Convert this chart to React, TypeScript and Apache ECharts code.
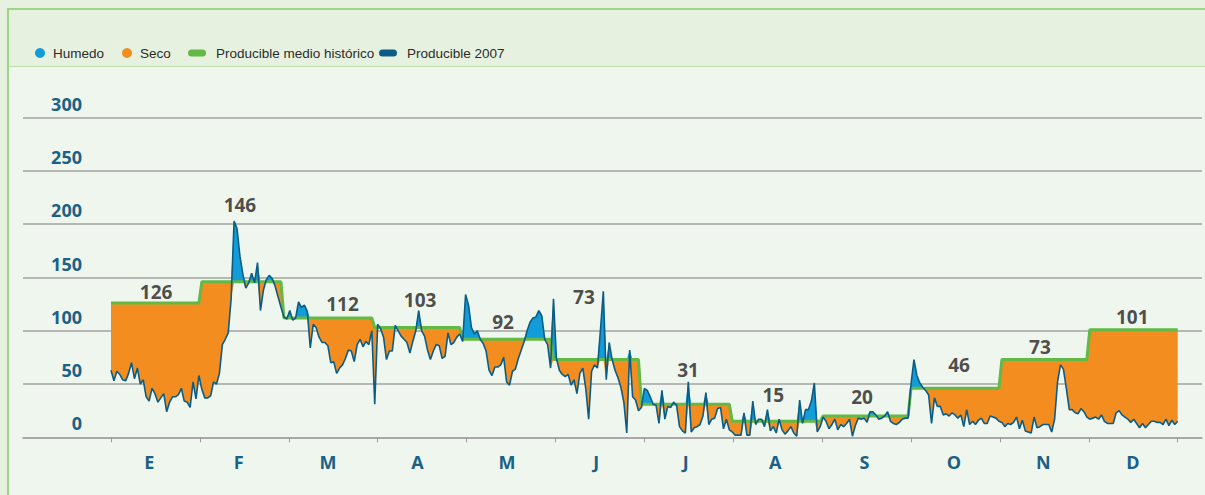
import React, { useEffect, useRef } from 'react';
import * as echarts from 'echarts';

const MONTHS = ['E', 'F', 'M', 'A', 'M', 'J', 'J', 'A', 'S', 'O', 'N', 'D'];
const MEDIO = [126, 146, 112, 103, 92, 73, 31, 15, 20, 46, 73, 101];

const JAN = [63, 53, 62, 59, 54, 53, 60, 70, 55, 65, 50, 54, 38, 34, 46, 41, 33, 37, 41, 24, 33, 38, 38, 40, 46, 34, 33, 28, 52, 36, 58];
const FEB = [45, 37, 37, 39, 52, 50, 60, 87, 92, 98, 130, 203, 196, 170, 153, 140, 145, 154, 145, 164, 119, 138, 148, 152, 149, 142, 132, 122];
const MAR = [113, 111, 119, 110, 112, 127, 122, 124, 118, 84, 106, 103, 94, 89, 89, 86, 70, 71, 60, 65, 68, 74, 82, 81, 71, 87, 92, 85, 90, 87, 100];
const APR = [31, 106, 102, 94, 73, 81, 81, 105, 100, 95, 92, 89, 79, 90, 100, 119, 100, 95, 82, 73, 81, 87, 86, 74, 76, 98, 87, 89, 94, 97];
const MAY = [90, 134, 124, 103, 97, 100, 92, 88, 81, 63, 58, 66, 66, 68, 75, 52, 49, 62, 64, 74, 82, 90, 100, 108, 112, 113, 119, 114, 92, 87, 65];
const JUN = [130, 74, 63, 59, 57, 59, 49, 54, 41, 60, 65, 46, 17, 62, 68, 65, 100, 137, 54, 89, 73, 63, 56, 47, 33, 4, 82, 38, 35, 25];
const JUL = [28, 46, 44, 38, 31, 30, 13, 44, 17, 29, 28, 33, 30, 10, 6, 4, 52, 5, 9, 10, 12, 20, 42, 12, 17, 18, 27, 28, 8, 17, 7];
const AUG = [5, 2, 2, 2, 23, 2, 2, 34, 12, 17, 17, 10, 26, 6, 10, 4, 17, 7, 3, 6, 10, 4, 1, 35, 13, 26, 26, 34, 51, 5, 10];
const SEP = [19, 15, 8, 12, 17, 7, 12, 10, 13, 17, 1, 11, 18, 17, 18, 14, 24, 24, 21, 17, 18, 20, 24, 15, 13, 12, 14, 17, 18, 18];
const OCT = [50, 73, 58, 51, 47, 44, 40, 13, 37, 29, 29, 21, 22, 20, 23, 21, 18, 21, 10, 26, 12, 15, 12, 16, 18, 13, 13, 20, 19, 18, 15];
const NOV = [14, 10, 13, 12, 14, 19, 8, 16, 6, 5, 4, 19, 9, 10, 12, 12, 12, 5, 17, 52, 68, 64, 46, 26, 26, 23, 22, 27, 24, 19];
const DEC = [17, 18, 19, 17, 21, 15, 13, 13, 13, 23, 25, 21, 19, 17, 14, 17, 13, 9, 13, 9, 12, 15, 15, 14, 14, 12, 17, 11, 16, 12, 15];

const DAILY_BY_MONTH = [JAN, FEB, MAR, APR, MAY, JUN, JUL, AUG, SEP, OCT, NOV, DEC];

// Anchor of each monthly value label, in chart coordinates [day, value]
const LABEL_ANCHORS = [
  [15.4, 136], [44, 218], [79, 125], [105.5, 128.6], [133.8, 108], [161.4, 131.7],
  [196.9, 63], [226, 40], [256.3, 38], [289.4, 68], [317, 85], [348.5, 113],
];

const LEGEND_ITEMS = [
  { name: 'Humedo', color: '#129dd9', icon: 'circle', left: 30 },
  { name: 'Seco', color: '#f48d1f', icon: 'circle', left: 117 },
  { name: 'Producible medio histórico', color: '#62b946', icon: 'pill', left: 183 },
  { name: 'Producible 2007', color: '#0b5d86', icon: 'pill', left: 374 },
];

const ORANGE = '#f48d1f';
const BLUE = '#129dd9';
const GREEN = '#62b946';
const DARK = '#0b5d86';
const TEAL = '#1b6185';
const FONT = "'Open Sans', 'DejaVu Sans', sans-serif";
const LEGEND_FONT = "'Liberation Sans', Arial, sans-serif";
const PILL = 'path://M3.5 0H14.5A3.5 3.5 0 0 1 14.5 7H3.5A3.5 3.5 0 0 1 3.5 0Z';

export default function App() {
  const ref = useRef<HTMLDivElement>(null);

  useEffect(() => {
    const chart = echarts.init(ref.current as HTMLDivElement, null, { renderer: 'svg' });

    const daily: number[] = [];
    const medio: number[] = [];
    DAILY_BY_MONTH.forEach((arr, m) => {
      arr.forEach((v) => {
        daily.push(v);
        medio.push(MEDIO[m]);
      });
    });
    const lastDay = daily.length - 1;
    const days = daily.map((_, i) => String(i));
    const base = daily.map((v, i) => Math.min(v, medio[i]));
    const seco = daily.map((v, i) => medio[i] - Math.min(v, medio[i]));
    const hum = daily.map((v, i) => Math.max(v, medio[i]) - medio[i]);

    const plotTop = 117.7;
    const plotBottom = 495 - 437.3;

    const legends = LEGEND_ITEMS.map((it) => {
      const isPill = it.icon === 'pill';
      return {
        left: it.left,
        top: 41,
        itemWidth: isPill ? 18 : 10,
        itemHeight: isPill ? 7 : 10,
        selectedMode: false,
        icon: isPill ? PILL : 'circle',
        textStyle: {
          fontFamily: LEGEND_FONT, fontSize: 13.5, color: '#2b2b2b',
          padding: [0, 0, 0, isPill ? 5 : 3],
        },
        data: [{ name: it.name, itemStyle: { color: it.color } }],
      };
    });

    chart.setOption({
      animation: false,
      backgroundColor: 'transparent',
      grid: [
        { left: 23, right: 3, top: plotTop, bottom: plotBottom },
        { left: 111, right: 27.3, top: plotTop, bottom: plotBottom },
        { left: 104.5, right: 27.5, top: plotTop, bottom: plotBottom },
      ],
      legend: legends,
      xAxis: [
        {
          gridIndex: 0, type: 'value', min: 0, max: 1,
          axisLine: { show: true, lineStyle: { color: '#a3a3a3', width: 1.5 } },
          axisTick: { show: false }, axisLabel: { show: false }, splitLine: { show: false },
        },
        {
          gridIndex: 1, type: 'value', min: 0, max: lastDay, show: false,
        },
        {
          gridIndex: 1, type: 'category', data: MONTHS, position: 'bottom', boundaryGap: true,
          axisLine: { show: false },
          axisTick: { show: true, interval: 0, length: 5, lineStyle: { color: '#9a9a9a', width: 1 } },
          axisLabel: { show: false },
          splitLine: { show: false },
        },
        {
          gridIndex: 1, type: 'category', data: days, boundaryGap: false, show: false,
        },
        {
          gridIndex: 2, type: 'category', data: MONTHS, position: 'bottom', boundaryGap: true,
          axisLine: { show: false }, axisTick: { show: false }, splitLine: { show: false },
          axisLabel: {
            interval: 0, margin: 16,
            color: TEAL, fontWeight: 'bold', fontSize: 18, fontFamily: FONT,
          },
        },
      ],
      yAxis: [
        {
          gridIndex: 0, type: 'value', min: 0, max: 300, interval: 50,
          axisLine: { show: false }, axisTick: { show: false },
          splitLine: { show: true, lineStyle: { color: '#a3a3a3', width: 1.5 } },
          axisLabel: {
            inside: true, margin: 59, align: 'right', verticalAlign: 'bottom', padding: [0, 0, 5, 0],
            color: TEAL, fontWeight: 'bold', fontSize: 18, fontFamily: FONT,
          },
        },
        { gridIndex: 1, type: 'value', min: 0, max: 300, show: false },
        { gridIndex: 2, type: 'value', min: 0, max: 300, show: false },
      ],
      series: [
        {
          name: 'base', type: 'line', xAxisIndex: 3, yAxisIndex: 1, stack: 'w', data: base,
          symbol: 'none', lineStyle: { width: 0, opacity: 0 }, silent: true,
        },
        {
          name: 'Seco', type: 'line', xAxisIndex: 3, yAxisIndex: 1, stack: 'w', data: seco,
          symbol: 'none', color: ORANGE, lineStyle: { width: 0, opacity: 0 },
          areaStyle: { color: ORANGE, opacity: 1 },
        },
        {
          name: 'Humedo', type: 'line', xAxisIndex: 3, yAxisIndex: 1, stack: 'w', data: hum,
          symbol: 'none', color: BLUE, lineStyle: { width: 0, opacity: 0 },
          areaStyle: { color: BLUE, opacity: 1 },
        },
        {
          name: 'Producible medio histórico', type: 'line', xAxisIndex: 3, yAxisIndex: 1, data: medio,
          symbol: 'none', color: GREEN, itemStyle: { color: GREEN }, lineStyle: { color: GREEN, width: 3 }, z: 3,
        },
        {
          name: 'Producible 2007', type: 'line', xAxisIndex: 3, yAxisIndex: 1, data: daily,
          symbol: 'none', color: DARK, itemStyle: { color: DARK }, lineStyle: { color: DARK, width: 1.6 }, z: 4,
        },
        {
          name: 'labels', type: 'scatter', xAxisIndex: 1, yAxisIndex: 1, data: LABEL_ANCHORS,
          symbolSize: 1, itemStyle: { color: 'transparent' }, z: 5, silent: true,
          label: {
            show: true, position: 'inside',
            formatter: (p: any) => String(MEDIO[p.dataIndex]),
            color: '#231f20', fontWeight: 'bold', fontSize: 19, fontFamily: FONT,
          },
        },
      ],
    });

    return () => chart.dispose();
  }, []);

  return (
    <div style={{ position: 'absolute', left: 0, top: 0, width: 1205, height: 495, background: '#e6f2df', overflow: 'hidden' }}>
      <div style={{ position: 'absolute', left: 7, top: 8, right: 0, bottom: 0, borderLeft: '2px solid #a0d588', borderTop: '2px solid #a0d588' }} />
      <div style={{ position: 'absolute', left: 9, top: 66, right: 0, bottom: 0, background: '#eff6ee', borderTop: '1.5px solid #bddfae' }} />
      <div ref={ref} style={{ position: 'absolute', left: 0, top: 0, width: 1205, height: 495 }} />
    </div>
  );
}
